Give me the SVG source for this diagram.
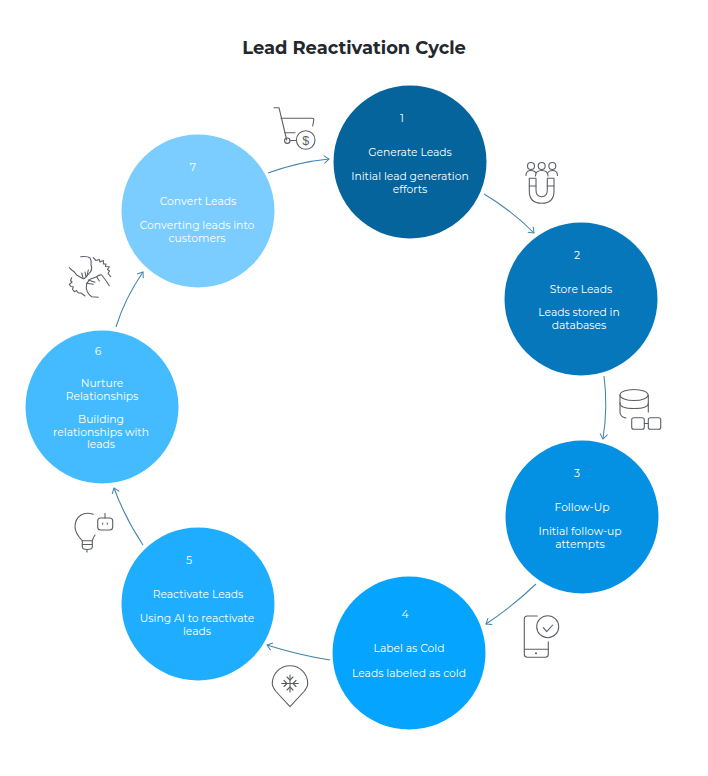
<svg xmlns="http://www.w3.org/2000/svg" width="708" height="776" viewBox="0 0 708 776">
<defs>
<marker id="arr" markerUnits="userSpaceOnUse" markerWidth="12" markerHeight="12" refX="8" refY="6" orient="auto"><path d="M3,2.200 L8,6 L3,9.800" fill="none" stroke="#4583a9" stroke-width="1"/></marker>
</defs>
<style>
text{font-family:"Montserrat","Inter","Noto Sans",sans-serif;fill:#fff;font-size:10.750px;text-anchor:middle}
.title{font-size:17.900px;font-weight:700;fill:#23272e}
.c{fill:none;stroke:#4583a9;stroke-width:1.050;marker-end:url(#arr)}
.i{fill:none;stroke:#5c5f66;stroke-width:1.100;stroke-linecap:round;stroke-linejoin:round}
</style>
<rect width="708" height="776" fill="#fff"/>
<text class="title" x="354" y="54">Lead Reactivation Cycle</text>
<g id="connectors">
<path class="c" d="M268,173 Q298,162 329,159"/>
<path class="c" d="M484,194 Q511,210 534,233"/>
<path class="c" d="M604,376 Q608,407 603,439"/>
<path class="c" d="M536,584 Q513,606 486,624"/>
<path class="c" d="M330,660 Q298,655 267,645"/>
<path class="c" d="M143,545 Q125,518 114,488"/>
<path class="c" d="M116,327 Q125,298 143,272"/>
</g>
<g id="node1"><circle cx="410" cy="162" r="76.500" fill="#05649b"/><text x="402" y="122">1</text><text x="410" y="156">Generate Leads</text><text x="410" y="180">Initial lead generation</text><text x="410" y="193">efforts</text></g>
<g id="node2"><circle cx="581" cy="299" r="76.500" fill="#0677bb"/><text x="577" y="259">2</text><text x="581" y="293">Store Leads</text><text x="579" y="316">Leads stored in</text><text x="579" y="329">databases</text></g>
<g id="node3"><circle cx="582" cy="517" r="76.500" fill="#0591e3"/><text x="577" y="477">3</text><text x="582" y="511">Follow-Up</text><text x="580" y="535">Initial follow-up</text><text x="580" y="548">attempts</text></g>
<g id="node4"><circle cx="409" cy="653" r="76.500" fill="#05a4fe"/><text x="405" y="618">4</text><text x="409" y="652">Label as Cold</text><text x="409" y="677">Leads labeled as cold</text></g>
<g id="node5"><circle cx="198" cy="604" r="76.500" fill="#1fadff"/><text x="189" y="564">5</text><text x="198" y="598">Reactivate Leads</text><text x="197" y="622">Using AI to reactivate</text><text x="197" y="635">leads</text></g>
<g id="node6"><circle cx="102" cy="407" r="76.500" fill="#45bbff"/><text x="98" y="355">6</text><text x="102" y="387">Nurture</text><text x="102" y="400">Relationships</text><text x="101" y="423">Building</text><text x="101" y="435.500">relationships with</text><text x="101" y="448">leads</text></g>
<g id="node7"><circle cx="198" cy="211" r="76.500" fill="#7bcdff"/><text x="193" y="171">7</text><text x="198" y="205">Convert Leads</text><text x="197" y="229">Converting leads into</text><text x="197" y="242">customers</text></g>
<g id="icon-cart" class="i"><path d="M274,107.700 H279 L286.700,140"/><path d="M281,118.300 H312 Q314,118.300 313.800,120 L312.700,126"/><path d="M285,132.700 H295"/><path d="M290,140.500 H296"/><circle cx="287.300" cy="140.700" r="2.700"/><circle cx="305.700" cy="140" r="9.300"/><text x="305.700" y="144.500" style="fill:#5c5f66;stroke:none;font-size:12.500px;font-family:'Liberation Sans',sans-serif">$</text></g>
<g id="icon-magnet" class="i"><circle cx="531" cy="166" r="3.500"/><circle cx="541.700" cy="166" r="3.500"/><circle cx="552.300" cy="166" r="3.500"/><path d="M526,175.500 Q526,170.500 531,170.500 Q534.500,170.500 536,173"/><path d="M535.500,176 Q535.500,170.500 541.700,170.500 Q548,170.500 548,176"/><path d="M547.500,173 Q549,170.500 552.300,170.500 Q557.500,170.500 557.500,175.500"/><path d="M529.300,178.300 H536 V190 Q536,196.700 541.700,196.700 Q547.300,196.700 547.300,190 V178.300 H554 V191 Q554,203.300 541.700,203.300 Q529.300,203.300 529.300,191 Z"/><path d="M529.300,186 H536 M547.300,186 H554"/></g>
<g id="icon-db" class="i"><ellipse cx="634" cy="395" rx="14" ry="5.500"/><path d="M620,395 V403 Q620,408.500 634,408.500 Q648.300,408.500 648.300,403 V395"/><path d="M620,403 V412 Q620,417 626,418"/><path d="M648.300,403 V412"/><rect x="631.700" y="417.700" width="12.600" height="11.600" rx="2"/><rect x="648.300" y="417.700" width="12.400" height="11.600" rx="2"/><path d="M644.300,423.500 H648.300"/></g>
<g id="icon-phone" class="i"><path d="M537.300,616 H527.300 Q524.300,616 524.300,619 V654.300 Q524.300,657.300 527.300,657.300 H545.300 Q548.300,657.300 548.300,654.300 V641.700"/><path d="M524.300,649.300 H548.300"/><circle cx="547.700" cy="626.700" r="11"/><path d="M543.300,627.700 L546.700,631.700 L552.700,625"/><circle cx="536" cy="653.300" r="0.500"/></g>
<g id="icon-snow" class="i"><path d="M290,706.700 L276,691.500 Q272.300,687 272.300,683.500 A17.700,17.700 0 0 1 307.700,683.500 Q307.700,687 304,691.500 Z"/><path d="M290,675 V692 M281.700,683.500 H298.300"/><path d="M287,677 L290,680 L293,677 M287,690 L290,687 L293,690 M284,680.500 L287,683.500 L284,686.500 M296,680.500 L293,683.500 L296,686.500"/></g>
<g id="icon-bulb" class="i"><path d="M93.300,514.300 Q86,512 81,515 Q75,519 75,526.700 Q75,533 82.300,540.700 V547 Q82.300,549.500 87,549.500 Q92.300,549.500 92.300,547 V540.700 Q93,538 95,535"/><path d="M82.300,540.700 H92.300"/><path d="M82.300,544.500 H92.300"/><path d="M87,549.500 V552"/><rect x="97.700" y="518" width="15" height="12" rx="3"/><path d="M105,518 V513.500"/><path d="M102.700,523 V524.300 M107.300,523 V524.300"/></g>
<g id="icon-hands" class="i"><path d="M80.700,256.700 Q88,256 90,258 Q92,261 91,265 Q92.500,268 90.700,271.700 L85,278 Q83,279.500 81.700,278 L76.700,275 Q74,271 71.700,270 L69.300,267.700"/><path d="M81.700,273 L83,278 M85,272 L86,277 M88.300,270 L87,276"/><path d="M93.300,257.700 L96,260.500 L99.300,259.500 L100,262 L103.300,260.500 L103.500,264 L106,264 L105.500,266.500 L109.300,266.700 L107.500,269.500 L109.500,271 L108,273.500 L110.700,276.700"/><path d="M71.700,277.700 L70.500,280.500 L72,282 L69.300,284.300 L71,286.500 L73.300,286.700 L72.500,289.500 L74.500,291.700 L76.500,290.500 L78.300,293 L81,293 L85,296"/><path d="M109.300,285.700 Q105,279 101.700,275 Q99,274.500 96.700,276.700 L90,279.300 L86.700,283.300 Q85.500,288 87.300,291.700 Q89,295 91.700,296.700 L98.300,297.300"/><path d="M86.700,283.300 L93.300,284.300 M88.300,280 L95,282.300 M96.700,276.700 L99.300,281"/></g>
</svg>
